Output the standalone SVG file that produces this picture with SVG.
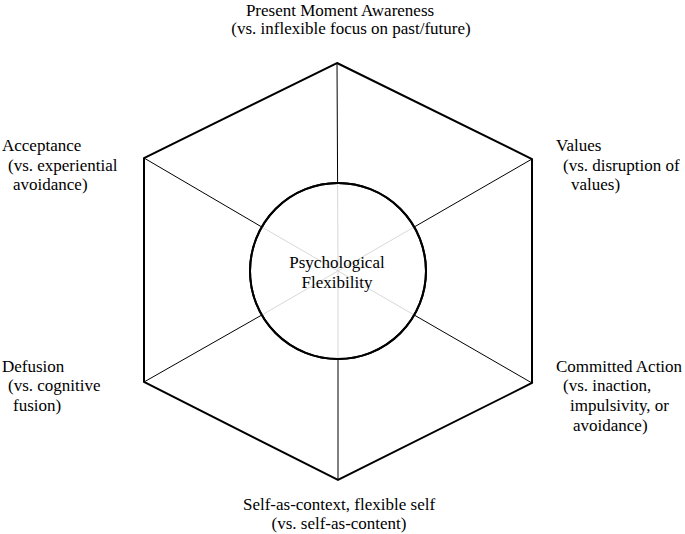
<svg xmlns="http://www.w3.org/2000/svg" width="685" height="534" viewBox="0 0 685 534">
<style>
text { font-family: 'Liberation Serif', serif; font-size: 17px; fill: #000; }
.c { text-anchor: middle; }
.hex { fill: none; stroke: #000; stroke-width: 2; stroke-linejoin: miter; }
.spoke { stroke: #000; stroke-width: 1; }
.inner { stroke: #d8d8d8; stroke-width: 1; }
.circ { fill: #fff; stroke: #000; stroke-width: 2; }
</style>
<rect width="685" height="534" fill="#fff"/>
<g id="connectors">
  <polygon class="hex" points="337,63 532,159 532,383 338,480 144,382 144,158"/>
  <line class="spoke" x1="337" y1="63" x2="337.6" y2="183"/>
  <line class="spoke" x1="532" y1="159" x2="414.2" y2="227"/>
  <line class="spoke" x1="532" y1="383" x2="414.2" y2="315"/>
  <line class="spoke" x1="338" y1="480" x2="338" y2="359"/>
  <line class="spoke" x1="144" y1="382" x2="261.8" y2="315"/>
  <line class="spoke" x1="144" y1="158" x2="261.8" y2="227"/>
</g>
<g id="center" font-family="Liberation Serif">
  <circle class="circ" cx="338" cy="271" r="88"/>
  <line class="inner" x1="338" y1="271" x2="337.6" y2="183"/>
  <line class="inner" x1="338" y1="271" x2="414.2" y2="227"/>
  <line class="inner" x1="338" y1="271" x2="414.2" y2="315"/>
  <line class="inner" x1="338" y1="271" x2="338" y2="359"/>
  <line class="inner" x1="338" y1="271" x2="261.8" y2="315"/>
  <line class="inner" x1="338" y1="271" x2="261.8" y2="227"/>
  <circle cx="338" cy="271" r="88" fill="none" stroke="#000" stroke-width="2"/>
  <text class="c" x="337" y="268">Psychological</text>
  <text class="c" x="337" y="288">Flexibility</text>
</g>
<g id="present" font-family="Liberation Serif">
  <text class="c" x="340" y="16">Present Moment Awareness</text>
  <text class="c" x="351" y="34">(vs. inflexible focus on past/future)</text>
</g>
<g id="acceptance" font-family="Liberation Serif">
  <text x="2" y="151">Acceptance</text>
  <text x="8" y="171">(vs. experiential</text>
  <text x="13" y="190">avoidance)</text>
</g>
<g id="values" font-family="Liberation Serif">
  <text x="556" y="151">Values</text>
  <text x="563" y="171">(vs. disruption of</text>
  <text x="571" y="190">values)</text>
</g>
<g id="defusion" font-family="Liberation Serif">
  <text x="2" y="372">Defusion</text>
  <text x="8" y="391">(vs. cognitive</text>
  <text x="13" y="411">fusion)</text>
</g>
<g id="committed" font-family="Liberation Serif">
  <text x="556" y="372">Committed Action</text>
  <text x="563" y="391">(vs. inaction,</text>
  <text x="570" y="411">impulsivity, or</text>
  <text x="573" y="431">avoidance)</text>
</g>
<g id="self" font-family="Liberation Serif">
  <text class="c" x="339" y="510">Self-as-context, flexible self</text>
  <text class="c" x="339" y="529">(vs. self-as-content)</text>
</g>
</svg>
